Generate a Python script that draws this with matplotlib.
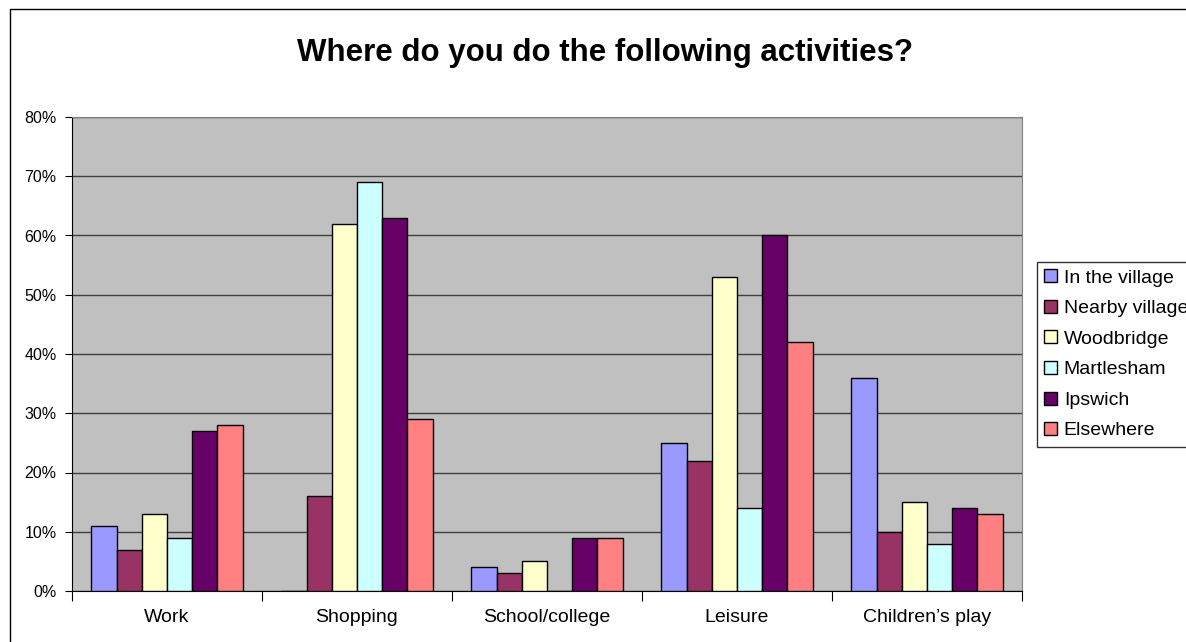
import numpy as np
import matplotlib.pyplot as plt
from matplotlib.patches import Rectangle

plt.rcParams['font.family'] = ['Liberation Sans', 'DejaVu Sans']

categories = ["Work", "Shopping", "School/college", "Leisure", "Children\u2019s play"]
series = ["In the village", "Nearby village", "Woodbridge", "Martlesham", "Ipswich", "Elsewhere"]
colors = ["#9999FF", "#993366", "#FFFFCC", "#CCFFFF", "#660066", "#FF8080"]

# percent values, one list per series (order follows categories)
in_village = [11, 0, 4, 25, 36]
nearby_village = [7, 16, 3, 22, 10]
woodbridge = [13, 62, 5, 53, 15]
martlesham = [9, 69, 0, 14, 8]
ipswich = [27, 63, 9, 60, 14]
elsewhere = [28, 29, 9, 42, 13]
values = [in_village, nearby_village, woodbridge, martlesham, ipswich, elsewhere]

yticks = [0, 10, 20, 30, 40, 50, 60, 70, 80]

fig = plt.figure(figsize=(11.86, 6.42), dpi=100)
ax = fig.add_axes([72 / 1186, 1 - 591 / 642, 950 / 1186, 474 / 642])
ax.set_facecolor("#C0C0C0")

x = np.arange(len(categories))
w = 0.1326
for i, (name, vals, c) in enumerate(zip(series, values, colors)):
    ax.bar(x + (i - 2.5) * w, vals, w, color=c, edgecolor="black", linewidth=1,
           label=name, zorder=3)

ax.set_xlim(-0.5, len(categories) - 0.5)
ax.set_ylim(0, 80)
ax.set_yticks(yticks)
ax.set_yticklabels([f"{v}%" for v in yticks], fontsize=11.5)
ax.yaxis.grid(True, color="#404040", linewidth=1, zorder=1)
ax.set_axisbelow(True)

ax.set_xticks(np.arange(len(categories) + 1) - 0.5)
ax.set_xticklabels([])
ax.set_xticks(x, minor=True)
ax.set_xticklabels(categories, minor=True, fontsize=14)
ax.tick_params(axis="x", which="major", length=7, direction="out", color="black")
ax.tick_params(axis="x", which="minor", length=0, pad=13)
ax.tick_params(axis="y", length=5, direction="out", pad=6, color="black")

for s in ["top", "right"]:
    ax.spines[s].set_color("#808080")
for s in ["left", "bottom"]:
    ax.spines[s].set_color("black")

fig.text(0.51, 1 - 53 / 642, "Where do you do the following activities?",
         ha="center", va="center", fontsize=22.5, fontweight="bold")

# legend runs off the right edge, as in the original
leg = fig.legend(loc="upper left", bbox_to_anchor=(1037 / 1186, 1 - 262 / 642),
                 fontsize=14, frameon=True, fancybox=False, edgecolor="black",
                 handlelength=0.65, handleheight=0.65, handletextpad=0.35,
                 labelspacing=0.68, borderpad=0.38, borderaxespad=0)
leg.get_frame().set_linewidth(1)

fig.add_artist(Rectangle((10 / 1186, -0.1), 1.2, 1 - 9 / 642 + 0.1,
                         transform=fig.transFigure, fill=False,
                         edgecolor="black", linewidth=1))

fig.savefig("out.png", dpi=100)
